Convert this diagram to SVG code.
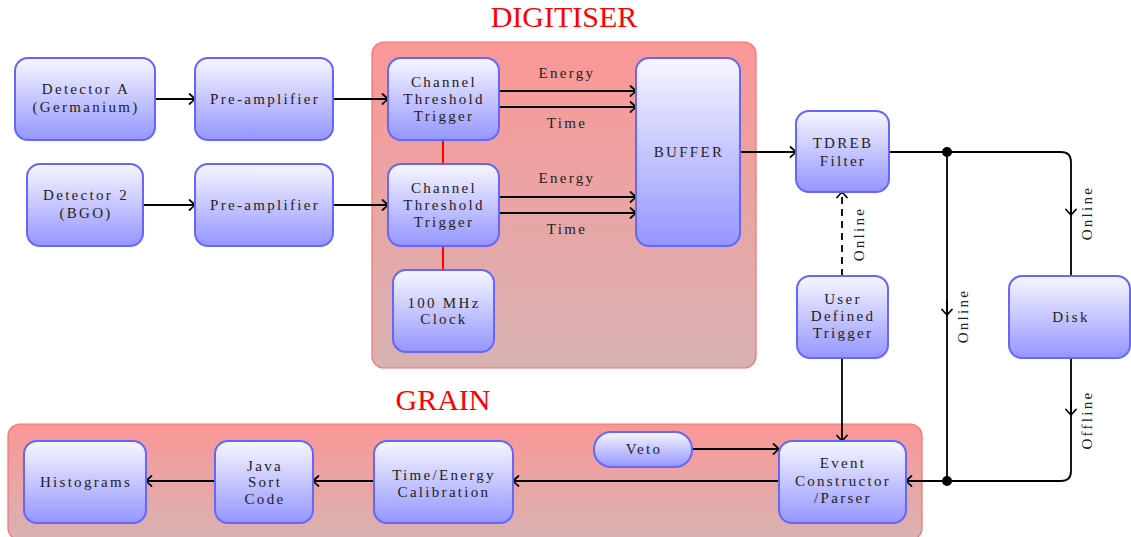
<svg xmlns="http://www.w3.org/2000/svg" width="1131" height="537" viewBox="0 0 1131 537">
<defs>
  <linearGradient id="ng" x1="0" y1="0" x2="0" y2="1">
    <stop offset="0" stop-color="#f7f7ff"/>
    <stop offset="1" stop-color="#9595ff"/>
  </linearGradient>
  <linearGradient id="cg" x1="0" y1="0" x2="0" y2="1">
    <stop offset="0" stop-color="#fb9797"/>
    <stop offset="1" stop-color="#d8b2b2"/>
  </linearGradient>
  <marker id="arr" viewBox="-7 -6 8 12" refX="0" refY="0" markerWidth="8" markerHeight="12" markerUnits="userSpaceOnUse" orient="auto">
    <path d="M-5.5,-5 Q-1.5,-1.5 0,0 Q-1.5,1.5 -5.5,5" fill="none" stroke="#000" stroke-width="1.7" stroke-linecap="round"/>
  </marker>
  <style>
    .node rect { fill: url(#ng); stroke: #6666ff; stroke-width: 2; }
    .cluster { fill: url(#cg); stroke: #f77070; stroke-width: 1.2; }
    .t { font-family: "Liberation Serif", "DejaVu Serif", serif; font-size: 15px; letter-spacing: 2.3px; fill: #222; text-anchor: middle; }
    .title { font-family: "Liberation Serif", "DejaVu Serif", serif; font-size: 30px; fill: #ff0000; text-anchor: middle; }
    .c { fill: none; stroke: #000; stroke-width: 1.8; }
    .a { marker-end: url(#arr); }
    .red { fill: none; stroke: #ff0000; stroke-width: 2; }
    .dash { stroke-dasharray: 7 5; }
  </style>
</defs>
<rect width="1131" height="537" fill="#fff"/>

<g id="digitiser-cluster">
  <rect class="cluster" x="372" y="42" width="384" height="326" rx="12"/>
  <text class="title" x="564" y="27">DIGITISER</text>
</g>
<g id="grain-cluster">
  <rect class="cluster" x="8" y="424" width="914" height="116" rx="12"/>
  <text class="title" x="443" y="410">GRAIN</text>
</g>

<g id="connectors">
  <path class="c a" d="M155 99 L195 99"/>
  <path class="c a" d="M143 205 L195 205"/>
  <path class="c a" d="M333 99 L388 99"/>
  <path class="c a" d="M333 205 L388 205"/>
  <path class="c a" d="M499 91 L636 91"/>
  <path class="c a" d="M499 107 L636 107"/>
  <path class="c a" d="M499 197 L636 197"/>
  <path class="c a" d="M499 213 L636 213"/>
  <text class="t" x="567" y="78">Energy</text>
  <text class="t" x="567" y="128">Time</text>
  <text class="t" x="567" y="183">Energy</text>
  <text class="t" x="567" y="234">Time</text>
  <path class="red" d="M443 140 L443 164"/>
  <path class="red" d="M443 246 L443 270"/>
  <path class="c a" d="M740 152 L796 152"/>
  <path class="c" d="M889 152 L1061 152 Q1071 152 1071 162 L1071 276"/>
  <path class="c a" d="M1071 200 L1071 215"/>
  <text class="t" transform="translate(1087,213) rotate(-90)" dy="5">Online</text>
  <path class="c" d="M947 152 L947 481"/>
  <path class="c a" d="M947 300 L947 315"/>
  <text class="t" transform="translate(963,316) rotate(-90)" dy="5">Online</text>
  <circle cx="947" cy="152" r="5" fill="#000"/>
  <path class="c" d="M1071 358 L1071 471 Q1071 481 1061 481 L906 481"/>
  <path class="c a" d="M1071 400 L1071 415"/>
  <path class="c a" d="M920 481 L906 481"/>
  <text class="t" transform="translate(1087,420) rotate(-90)" dy="5">Offline</text>
  <circle cx="947" cy="481" r="5" fill="#000"/>
  <path class="c a dash" d="M842 276 L842 192"/>
  <text class="t" transform="translate(859,234) rotate(-90)" dy="5">Online</text>
  <path class="c a" d="M842 358 L842 441"/>
  <path class="c a" d="M692 449 L779 449"/>
  <path class="c a" d="M779 481 L513 481"/>
  <path class="c a" d="M374 481 L313 481"/>
  <path class="c a" d="M215 481 L146 481"/>
</g>

<g id="detector-a" class="node">
  <rect x="15" y="58" width="140" height="82" rx="13"/>
  <text class="t" x="86" y="94">Detector A</text>
  <text class="t" x="86" y="112">(Germanium)</text>
</g>
<g id="preamp-1" class="node">
  <rect x="195" y="58" width="138" height="82" rx="13"/>
  <text class="t" x="265" y="104">Pre-amplifier</text>
</g>
<g id="detector-2" class="node">
  <rect x="27" y="164" width="116" height="82" rx="13"/>
  <text class="t" x="86" y="200">Detector 2</text>
  <text class="t" x="86" y="218">(BGO)</text>
</g>
<g id="preamp-2" class="node">
  <rect x="195" y="164" width="138" height="82" rx="13"/>
  <text class="t" x="265" y="210">Pre-amplifier</text>
</g>
<g id="ctt-1" class="node">
  <rect x="388" y="58" width="111" height="82" rx="13"/>
  <text class="t" x="444" y="87">Channel</text>
  <text class="t" x="444" y="104">Threshold</text>
  <text class="t" x="444" y="121">Trigger</text>
</g>
<g id="ctt-2" class="node">
  <rect x="388" y="164" width="111" height="82" rx="13"/>
  <text class="t" x="444" y="193">Channel</text>
  <text class="t" x="444" y="210">Threshold</text>
  <text class="t" x="444" y="227">Trigger</text>
</g>
<g id="clock" class="node">
  <rect x="393" y="270" width="101" height="82" rx="13"/>
  <text class="t" x="444" y="308">100 MHz</text>
  <text class="t" x="444" y="324">Clock</text>
</g>
<g id="buffer" class="node">
  <rect x="636" y="58" width="104" height="188" rx="13"/>
  <text class="t" x="689" y="157">BUFFER</text>
</g>
<g id="tdreb" class="node">
  <rect x="796" y="111" width="93" height="81" rx="13"/>
  <text class="t" x="843" y="148">TDREB</text>
  <text class="t" x="843" y="166">Filter</text>
</g>
<g id="user-trigger" class="node">
  <rect x="797" y="276" width="91" height="82" rx="13"/>
  <text class="t" x="843" y="304">User</text>
  <text class="t" x="843" y="321">Defined</text>
  <text class="t" x="843" y="338">Trigger</text>
</g>
<g id="disk" class="node">
  <rect x="1009" y="276" width="121" height="82" rx="13"/>
  <text class="t" x="1071" y="322">Disk</text>
</g>
<g id="histograms" class="node">
  <rect x="24" y="441" width="122" height="82" rx="13"/>
  <text class="t" x="86" y="487">Histograms</text>
</g>
<g id="java-sort" class="node">
  <rect x="215" y="441" width="98" height="82" rx="13"/>
  <text class="t" x="265" y="471">Java</text>
  <text class="t" x="265" y="487">Sort</text>
  <text class="t" x="265" y="504">Code</text>
</g>
<g id="calibration" class="node">
  <rect x="374" y="441" width="139" height="82" rx="13"/>
  <text class="t" x="444" y="480">Time/Energy</text>
  <text class="t" x="444" y="497">Calibration</text>
</g>
<g id="veto" class="node">
  <rect x="594" y="432" width="98" height="35" rx="17"/>
  <text class="t" x="644" y="454">Veto</text>
</g>
<g id="event-constructor" class="node">
  <rect x="779" y="441" width="127" height="82" rx="13"/>
  <text class="t" x="843" y="468">Event</text>
  <text class="t" x="843" y="486">Constructor</text>
  <text class="t" x="843" y="503">/Parser</text>
</g>
</svg>
